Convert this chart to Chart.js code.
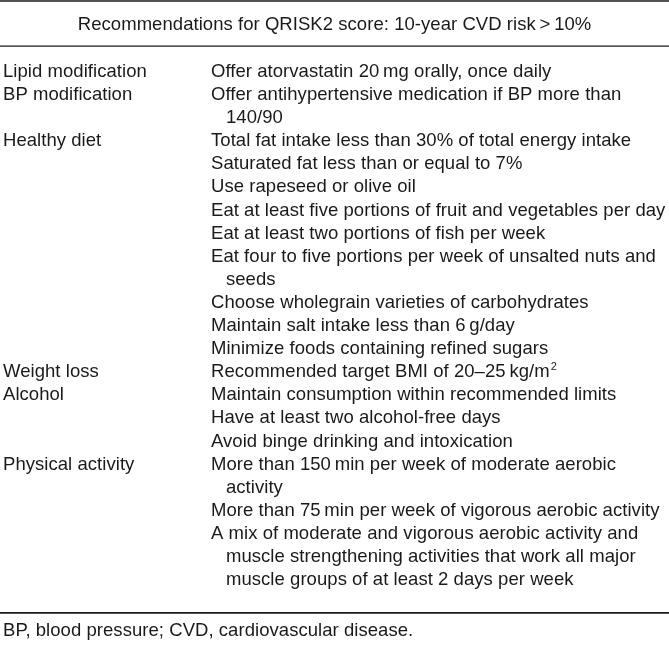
<!DOCTYPE html>
<html>
<head>
<meta charset="utf-8">
<script src="https://cdn.jsdelivr.net/npm/chart.js@4"></script>
<style>
  html, body { margin: 0; padding: 0; background: #ffffff; }
  #wrap { width: 669px; height: 646px; }
</style>
</head>
<body>
<div id="wrap"><canvas id="c" width="669" height="646"></canvas></div>
<script>
// ---- Data (text content of the table) ----
const title = "Recommendations for QRISK2 score: 10-year CVD risk\u2009>\u200910%";
const categories = [
  "Lipid modification",
  "BP modification",
  "Healthy diet",
  "Weight loss",
  "Alcohol",
  "Physical activity"
];
const lipidRecs = [["Offer atorvastatin 20\u2009mg orally, once daily"]];
const bpRecs = [["Offer antihypertensive medication if BP more than", "140/90"]];
const dietRecs = [
  ["Total fat intake less than 30% of total energy intake"],
  ["Saturated fat less than or equal to 7%"],
  ["Use rapeseed or olive oil"],
  ["Eat at least five portions of fruit and vegetables per day"],
  ["Eat at least two portions of fish per week"],
  ["Eat four to five portions per week of unsalted nuts and", "seeds"],
  ["Choose wholegrain varieties of carbohydrates"],
  ["Maintain salt intake less than 6\u2009g/day"],
  ["Minimize foods containing refined sugars"]
];
const weightRecs = [["Recommended target BMI of 20\u201325\u2009kg/m^2"]];
const alcoholRecs = [
  ["Maintain consumption within recommended limits"],
  ["Have at least two alcohol-free days"],
  ["Avoid binge drinking and intoxication"]
];
const activityRecs = [
  ["More than 150\u2009min per week of moderate aerobic", "activity"],
  ["More than 75\u2009min per week of vigorous aerobic activity"],
  ["A mix of moderate and vigorous aerobic activity and", "muscle strengthening activities that work all major", "muscle groups of at least 2 days per week"]
];
const recommendations = [lipidRecs, bpRecs, dietRecs, weightRecs, alcoholRecs, activityRecs];
const footnote = "BP, blood pressure; CVD, cardiovascular disease.";

// ---- Layout / style (in scale units: columns on x, text lines on y) ----
const COL_LABEL = 0, COL_REC = 1, COL_WRAP = 1.072, COL_CENTER = 1.594;
const TITLE_LINE = -2.03, FOOT_LINE = 24.2;
const RULES = [{ y: -3.29, w: 1.6 }, { y: -1.34, w: 1.2 }, { y: 23.2, w: 1.6 }];
const FONT = '18.5px "Liberation Sans", Arial, Helvetica, sans-serif';
const SUP_FONT = '11px "Liberation Sans", Arial, Helvetica, sans-serif';
const INK = '#1a1a1a';

// Build table points from the arrays
const labelPoints = [], recPoints = [];
let line = 0;
categories.forEach((cat, i) => {
  labelPoints.push({ x: COL_LABEL, y: line, text: cat });
  recommendations[i].forEach(rec => {
    rec.forEach((t, j) => {
      recPoints.push({ x: j === 0 ? COL_REC : COL_WRAP, y: line, text: t });
      line++;
    });
  });
});
const titlePoints = [{ x: COL_CENTER, y: TITLE_LINE, text: title, align: 'center' }];
const footPoints = [{ x: COL_LABEL, y: FOOT_LINE, text: footnote }];

function drawRich(ctx, text, x, y, align) {
  // supports a single ^2 style superscript
  const parts = text.split('^');
  ctx.font = FONT;
  let total = ctx.measureText(parts[0]).width;
  if (parts.length > 1) { ctx.font = SUP_FONT; total += ctx.measureText(parts[1]).width + 1; }
  let cx = align === 'center' ? x - total / 2 : x;
  ctx.font = FONT;
  ctx.fillText(parts[0], cx, y);
  if (parts.length > 1) {
    cx += ctx.measureText(parts[0]).width + 1;
    ctx.font = SUP_FONT;
    ctx.fillText(parts[1], cx, y - 7);
  }
}

const tablePlugin = {
  id: 'tableText',
  afterDatasetsDraw(chart) {
    const ctx = chart.ctx;
    const ys = chart.scales.y;
    const area = chart.chartArea;
    ctx.save();
    ctx.strokeStyle = INK;
    RULES.forEach(r => {
      const py = ys.getPixelForValue(r.y);
      ctx.lineWidth = r.w;
      ctx.beginPath();
      ctx.moveTo(area.left, py);
      ctx.lineTo(area.right, py);
      ctx.stroke();
    });
    ctx.fillStyle = INK;
    ctx.textBaseline = 'alphabetic';
    ctx.textAlign = 'left';
    if ('letterSpacing' in ctx) ctx.letterSpacing = '0.05px';
    chart.data.datasets.forEach((ds, di) => {
      const meta = chart.getDatasetMeta(di);
      meta.data.forEach((el, i) => {
        const p = ds.data[i];
        drawRich(ctx, p.text, el.x, el.y, p.align);
      });
    });
    ctx.restore();
  }
};

new Chart(document.getElementById('c'), {
  type: 'scatter',
  data: {
    datasets: [
      { label: 'title', data: titlePoints },
      { label: 'categories', data: labelPoints },
      { label: 'recommendations', data: recPoints },
      { label: 'footnote', data: footPoints }
    ]
  },
  options: {
    responsive: false,
    animation: false,
    events: [],
    layout: { padding: 0 },
    elements: { point: { radius: 0, hoverRadius: 0 } },
    plugins: { legend: { display: false }, tooltip: { enabled: false } },
    scales: {
      x: { type: 'linear', display: false, min: -0.0144, max: 3.2019 },
      y: { type: 'linear', display: false, reverse: true, min: -3.333, max: 24.632 }
    }
  },
  plugins: [tablePlugin]
});
</script>
</body>
</html>
